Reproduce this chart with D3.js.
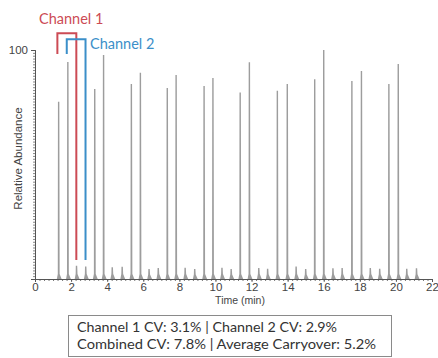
<!DOCTYPE html>
<html>
<head>
<meta charset="utf-8">
<script src="https://cdn.jsdelivr.net/npm/d3@7"></script>
<style>
  html, body { margin: 0; padding: 0; background: #fff; }
  svg { display: block; }
</style>
</head>
<body>
<svg id="chart" width="438" height="358"></svg>
<script>
// Injection peaks, alternating between the two channels (retention time in min, relative abundance %)
const ch1Times   = [1.31, 3.31, 5.34, 7.33, 9.37, 11.37, 13.43, 15.50, 17.56, 19.61];
const ch1Heights = [77.4, 83.0, 85.2, 83.4, 84.3, 81.4, 82.2, 87.2, 86.5, 85.2];
const ch2Times   = [1.82, 3.80, 5.84, 7.82, 9.86, 11.88, 13.98, 16.00, 18.09, 20.13];
const ch2Heights = [94.8, 97.8, 90.1, 89.1, 87.8, 94.6, 85.2, 100.0, 90.8, 93.9];

// Carryover peaks seen in the following blank of each channel
const ch1CarryTimes   = [2.30, 4.28, 6.32, 8.32, 10.36, 12.40, 14.47, 16.51, 18.58, 20.60];
const ch1CarryHeights = [5.8, 5.1, 4.4, 4.9, 4.9, 4.8, 5.5, 4.7, 4.8, 4.5];
const ch2CarryTimes   = [2.81, 4.83, 6.83, 8.85, 10.87, 12.89, 15.00, 17.02, 19.10, 21.14];
const ch2CarryHeights = [5.5, 5.4, 4.8, 4.4, 4.4, 4.5, 4.4, 4.8, 4.5, 4.7];

// Axis ticks
const xTickValues = [0, 2, 4, 6, 8, 10, 12, 14, 16, 18, 20, 22];
const yTickValues = [100];

// Channel brackets: [peak time, carryover time], bracket height, leg bottom, carryover line bottom
const channelNames      = ["Channel 1", "Channel 2"];
const bracketStart      = [1.24, 1.76];
const bracketEnd        = [2.29, 2.80];
const bracketTop        = [107.3, 104.7];
const bracketLegBottom  = [98.3, 98.3];
const bracketLineBottom = [8.3, 8.3];

// Summary statistics shown under the chart
const summaryLines = [
  "Channel 1 CV: 3.1% | Channel 2 CV: 2.9%",
  "Combined CV: 7.8% | Average Carryover: 5.2%"
];

const svg = d3.select("#chart");
const x = d3.scaleLinear().domain([0, 22]).range([35, 432]);
const y = d3.scaleLinear().domain([0, 100]).range([279, 50]);

const axisColor = "#555";
const peakColor = "#9d9d9d";
const channelColors = ["#cc4b55", "#3b8fc9"];

// Peak drawn as a narrow spike with a slightly tailing foot
function peakPath(t, h) {
  const px = x(t), top = y(h), base = y(0);
  const foot = Math.min(5, (base - top) * 0.45);
  return `M${px - 1.8},${base} L${px - 0.85},${base - foot} L${px - 0.7},${top} ` +
         `L${px + 0.7},${top} L${px + 1.0},${base - foot} L${px + 3.0},${base} Z`;
}

const peaks = [];
ch1Times.forEach((t, i) => peaks.push({ t, h: ch1Heights[i] }));
ch2Times.forEach((t, i) => peaks.push({ t, h: ch2Heights[i] }));
ch1CarryTimes.forEach((t, i) => peaks.push({ t, h: ch1CarryHeights[i] }));
ch2CarryTimes.forEach((t, i) => peaks.push({ t, h: ch2CarryHeights[i] }));

// Axes (major + minor ticks)
const gx = svg.append("g").attr("transform", `translate(0,${y(0)})`);
gx.call(d3.axisBottom(x).tickValues(d3.range(0, 22.001, 0.25)).tickSize(2).tickFormat(""));
gx.append("g").call(d3.axisBottom(x).tickValues(xTickValues).tickSize(3).tickFormat(d3.format("d")));
gx.selectAll("path.domain").attr("stroke", axisColor).attr("stroke-width", 1);
gx.selectAll("line").attr("stroke", axisColor).attr("stroke-width", 0.8);
gx.selectAll("text")
  .attr("fill", "#444")
  .attr("font-family", "Liberation Sans, Arial, sans-serif")
  .attr("font-size", 11.5)
  .attr("y", 4)
  .attr("dy", "0.71em");

const gy = svg.append("g").attr("transform", `translate(${x(0)},0)`);
gy.call(d3.axisLeft(y).tickValues(d3.range(0, 100.001, 1.25)).tickSize(2).tickFormat(""));
gy.append("g").call(d3.axisLeft(y).tickValues(yTickValues).tickSize(4).tickFormat(d3.format("d")));
gy.selectAll("path.domain").attr("stroke", axisColor).attr("stroke-width", 1);
gy.selectAll("line").attr("stroke", axisColor).attr("stroke-width", 0.7);
gy.selectAll("text")
  .attr("fill", "#444")
  .attr("font-family", "Liberation Sans, Arial, sans-serif")
  .attr("font-size", 11.5);

// Axis titles
svg.append("text")
  .attr("transform", `translate(22,${(y(0) + y(100)) / 2 - 6}) rotate(-90)`)
  .attr("text-anchor", "middle")
  .attr("font-family", "Liberation Sans, Arial, sans-serif")
  .attr("font-size", 11.5)
  .attr("fill", "#444")
  .text("Relative Abundance");

svg.append("text")
  .attr("x", 240).attr("y", 304)
  .attr("text-anchor", "middle")
  .attr("font-family", "Liberation Sans, Arial, sans-serif")
  .attr("font-size", 10.5)
  .attr("fill", "#444")
  .text("Time (min)");

// Chromatogram peaks
svg.append("g").selectAll("path")
  .data(peaks)
  .join("path")
  .attr("d", d => peakPath(d.t, d.h))
  .attr("fill", peakColor)
  .attr("stroke", "none");

// Channel brackets linking each injection to its carryover
channelNames.forEach((name, i) => {
  svg.append("path")
    .attr("fill", "none")
    .attr("stroke", channelColors[i])
    .attr("stroke-width", 2)
    .attr("d", `M${x(bracketStart[i])},${y(bracketLegBottom[i])} L${x(bracketStart[i])},${y(bracketTop[i])} ` +
               `L${x(bracketEnd[i])},${y(bracketTop[i])} L${x(bracketEnd[i])},${y(bracketLineBottom[i])}`);
});

svg.append("text")
  .attr("x", 39).attr("y", 23.5)
  .attr("font-family", "Lato, Open Sans, sans-serif")
  .attr("font-size", 14.5)
  .attr("fill", channelColors[0])
  .text(channelNames[0]);

svg.append("text")
  .attr("x", 90).attr("y", 49)
  .attr("font-family", "Lato, Open Sans, sans-serif")
  .attr("font-size", 14.5)
  .attr("fill", channelColors[1])
  .text(channelNames[1]);

// Summary box
svg.append("rect")
  .attr("x", 68.5).attr("y", 315.5)
  .attr("width", 323).attr("height", 41)
  .attr("fill", "#fff")
  .attr("stroke", "#8a8a8a")
  .attr("stroke-width", 1);

const summaryWidths = [260, 299];
summaryLines.forEach((line, i) => {
  svg.append("text")
    .attr("x", 77).attr("y", 332 + i * 16.5)
    .attr("font-family", "Lato, Open Sans, sans-serif")
    .attr("font-size", 13.5)
    .attr("fill", "#333")
    .attr("textLength", summaryWidths[i])
    .attr("lengthAdjust", "spacingAndGlyphs")
    .text(line);
});
</script>
</body>
</html>
